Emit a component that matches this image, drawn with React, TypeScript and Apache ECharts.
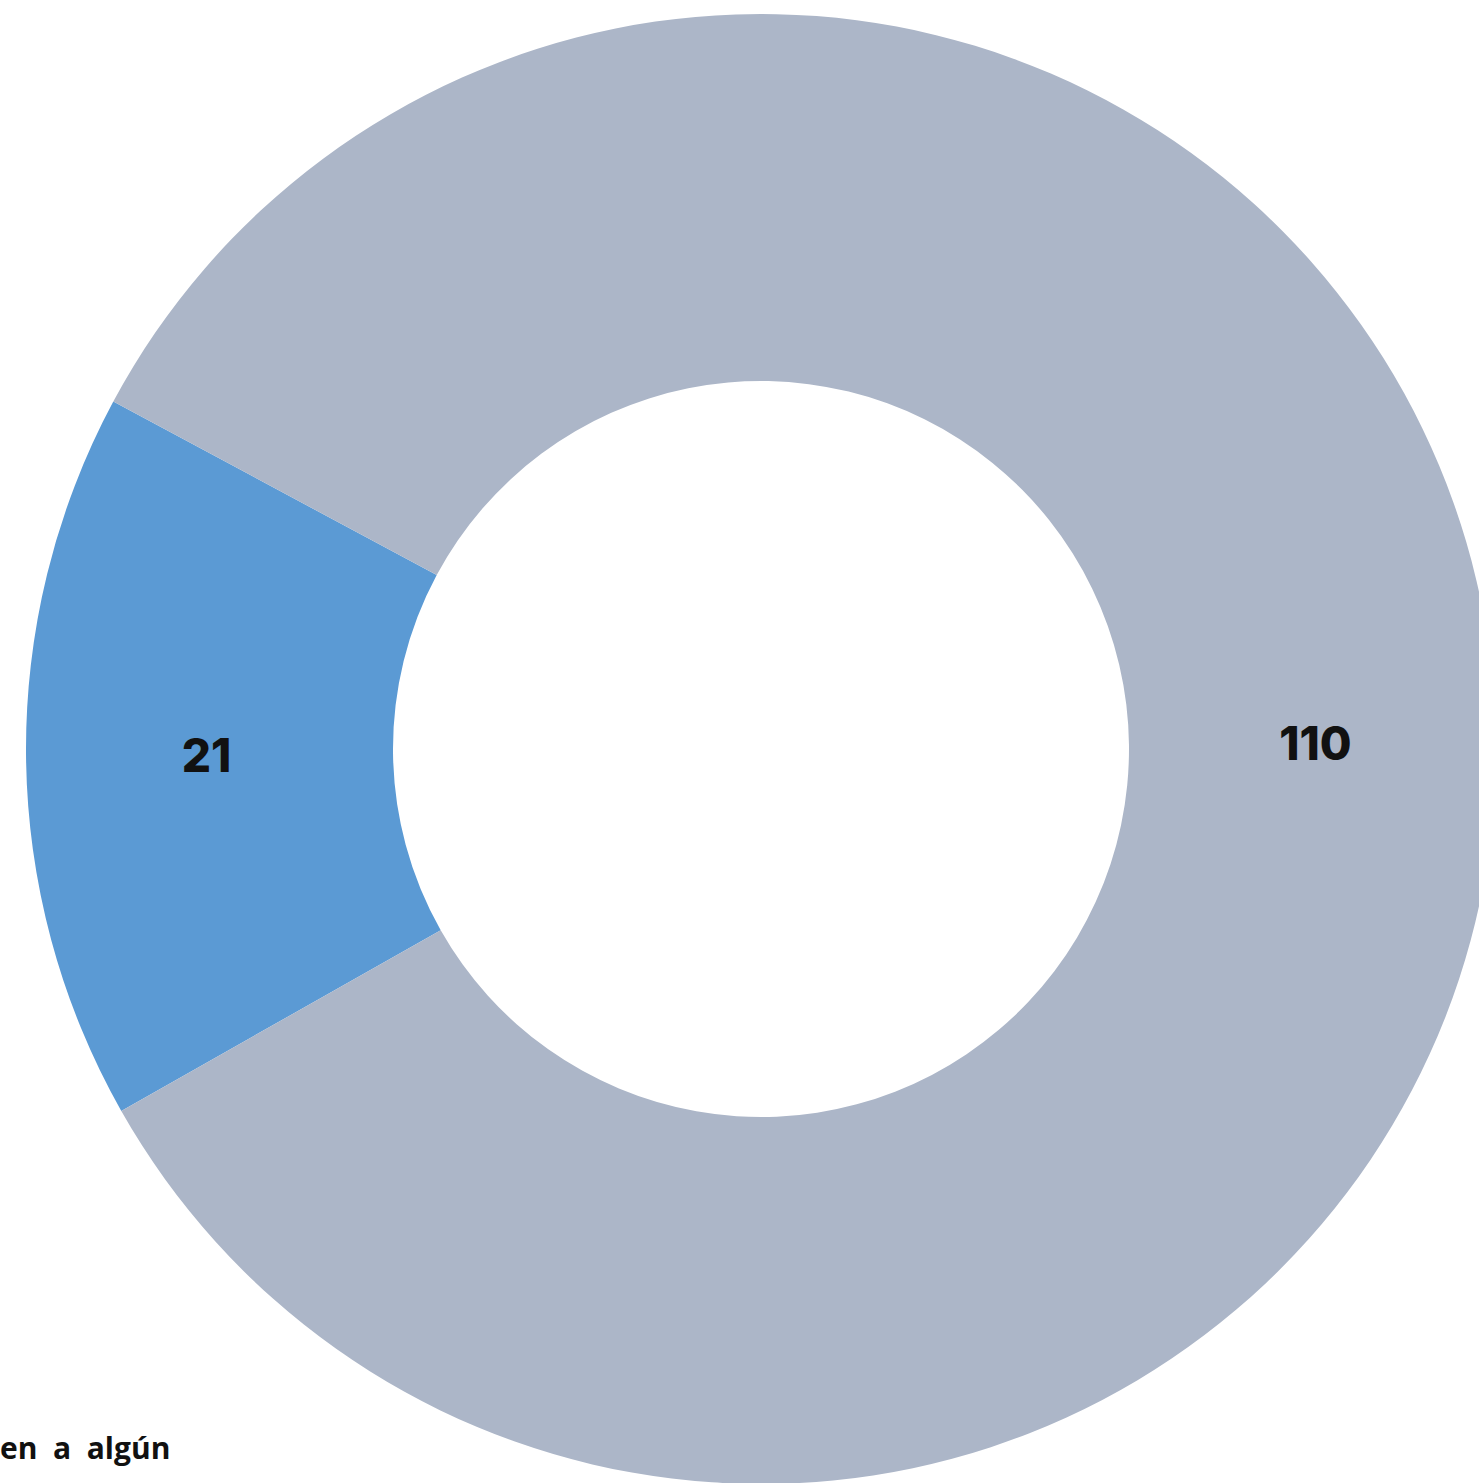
import React, { useEffect, useRef } from "react";
import * as echarts from "echarts";

const categories = ["Pertenecen a algún", "No pertenecen"];
const values = [21, 110];
const colors = ["#5B9AD4", "#ACB6C8"];
const footText = "en  a  algún";

export default function App() {
  const ref = useRef<HTMLDivElement>(null);
  useEffect(() => {
    if (!ref.current) return;
    const chart = echarts.init(ref.current, undefined, { renderer: "svg" });
    chart.setOption({
      animation: false,
      backgroundColor: "#ffffff",
      series: [
        {
          type: "pie",
          center: [761, 749],
          radius: [368, 735],
          startAngle: 209.5,
          clockwise: true,
          silent: true,
          label: {
            show: true,
            position: "inside",
            formatter: "{c}",
            color: "#111111",
            fontSize: 46,
            fontWeight: 800,
            fontFamily: "Inter",
          },
          labelLine: { show: false },
          data: categories.map((name, i) => ({
            name,
            value: values[i],
            itemStyle: { color: colors[i] },
          })),
        },
      ],
      graphic: [
        {
          type: "text",
          left: 0,
          top: 1432,
          style: {
            text: footText,
            fontSize: 30,
            fontWeight: "bold",
            fontFamily: "Open Sans",
            fill: "#111111",
          },
        },
      ],
    });
    return () => chart.dispose();
  }, []);
  return (
    <div
      ref={ref}
      style={{ position: "fixed", left: 0, top: 0, width: 1479, height: 1483 }}
    />
  );
}
